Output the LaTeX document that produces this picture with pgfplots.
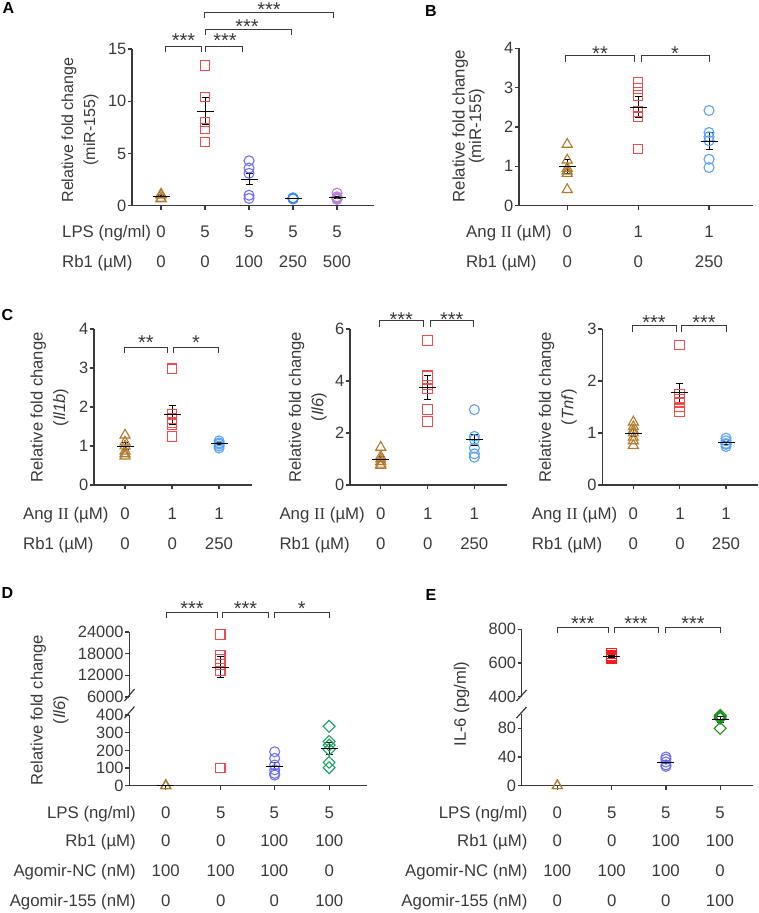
\documentclass[border=0pt]{standalone}
\usepackage{fontspec}
\setmainfont{Liberation Sans}
\newfontfamily\romfont{Liberation Serif}
\usepackage{pgfplots}
\pgfplotsset{compat=1.18}

\definecolor{axc}{HTML}{3A3A3A}
\definecolor{triC}{HTML}{B07A2A}
\definecolor{sqC}{HTML}{F24A4A}
\definecolor{cirA}{HTML}{6E6EF8}
\definecolor{cirA2}{HTML}{3C8CE6}
\definecolor{purA}{HTML}{B482D4}
\definecolor{cirB}{HTML}{5AA2F2}
\definecolor{cirD}{HTML}{7070F5}
\definecolor{diaD}{HTML}{1FA066}
\definecolor{diaE}{HTML}{189018}
\definecolor{sqE}{HTML}{FF1A1A}

\newcommand{\fs}{\fontsize{16.8}{19}\selectfont}
\newcommand{\ft}{\fontsize{16.4}{19}\selectfont}
\newcommand{\AngII}{Ang {\romfont II} (µM)}

\pgfplotsset{
  panel/.style={
    scale only axis, anchor=south west, clip=false,
    axis x line*=bottom, axis y line*=left,
    axis line style={axc, line width=1.2pt, -},
    tick style={axc, line width=1.2pt},
    major tick length=4pt, tick align=outside,
    xticklabels={},
    scaled y ticks=false,
    yticklabel style={font=\ft, text=axc, inner sep=1.5pt},
    /pgf/number format/assume math mode=true,
    /pgf/number format/1000 sep={},
  },
  pts/.style={only marks, mark size=5pt, line width=1.1pt, mark options={solid}},
  tri/.style={pts, mark=triangle, color=triC, mark size=5.8pt},
  sqr/.style={pts, mark=square, color=#1, mark size=4.8pt},
  cir/.style={pts, mark=o, color=#1},
  dia/.style={pts, mark=square, color=#1, mark options={rotate=45}, mark size=4.2pt},
  msem/.style={only marks, black, mark=-, mark size=#1, line width=1pt,
    error bars/.cd, y dir=both, y explicit,
    error bar style={line width=1pt, black},
    error mark options={rotate=90, mark size=3.5pt, line width=1pt, black}},
  msem/.default=8.5pt,
}

\tikzset{
  lab/.style={font=\fs, text=axc, inner sep=0pt, text height=11.8pt, text depth=3.5pt},
  ylab/.style={rotate=90, align=center, text=axc, inner sep=0pt},
  letter/.style={font=\fontsize{16}{16}\selectfont\bfseries, inner sep=0pt},
}
\newcommand{\brk}[4]{\draw[axc, line width=1pt] (#1,#3+#4) -- (#1,#3) -- (#2,#3) -- (#2,#3+#4);}
\newcommand{\sig}[3]{\node[anchor=base, inner sep=0pt, font=\fontsize{20}{20}\selectfont, text=axc] at (#1,#2+11.5) {#3};}

\begin{document}
\begin{tikzpicture}
\useasboundingbox (0pt,0pt) rectangle (759pt,-913pt);

% ---------- A
\begin{axis}[panel, at={(132pt,-205.7pt)}, width=242pt, height=156.7pt,
  xmin=0.34, xmax=5.84, ymin=0, ymax=15, xtick={1,...,5}, ytick={0,5,10,15}]
\addplot[tri] coordinates {(1,1.1)(1,1.05)(1,1.0)(1,0.7)(1,0.65)};
\addplot[sqr=sqC] coordinates {(2,13.4)(2,10.4)(2,8.0)(2,7.4)(2,6.1)};
\addplot[cir=cirA] coordinates {(3,4.3)(3,3.6)(3,3.1)(3,1.0)(3,0.7)};
\addplot[cir=cirA2] coordinates {(4,0.75)(4,0.72)(4,0.7)(4,0.68)(4,0.65)};
\addplot[cir=purA] coordinates {(5,1.2)(5,0.85)(5,0.75)(5,0.7)(5,0.6)};
\addplot[msem] coordinates {(1,0.9) +- (0,0.1) (2,9.06) +- (0,1.3) (3,2.54) +- (0,0.5) (4,0.7) +- (0,0.02) (5,0.78) +- (0,0.1)};
\end{axis}

% ---------- B
\begin{axis}[panel, at={(519pt,-205.7pt)}, width=234pt, height=157.4pt,
  xmin=0.32, xmax=3.62, ymin=0, ymax=4, xtick={1,2,3}, ytick={0,...,4}]
\addplot[tri] coordinates {(1,1.56)(1,1.16)(1,0.95)(1,0.88)(1,0.82)(1,0.41)};
\addplot[sqr=sqC] coordinates {(2,3.13)(2,2.98)(2,2.8)(2,2.4)(2,2.26)(2,1.44)};
\addplot[cir=cirB] coordinates {(3,2.42)(3,1.86)(3,1.75)(3,1.65)(3,1.18)(3,0.97)};
\addplot[msem] coordinates {(1,1.0) +- (0,0.17) (2,2.5) +- (0,0.27) (3,1.64) +- (0,0.21)};
\end{axis}

% ---------- C1
\begin{axis}[panel, at={(94pt,-485pt)}, width=158pt, height=156pt,
  xmin=0.34, xmax=3.70, ymin=0, ymax=4, xtick={1,2,3}, ytick={0,...,4}]
\addplot[tri] coordinates {(1,1.28)(1,1.1)(1,1.0)(1,0.87)(1,0.8)(1,0.74)};
\addplot[sqr=sqC] coordinates {(2,2.98)(2,1.82)(2,1.7)(2,1.6)(2,1.55)(2,1.25)};
\addplot[cir=cirB] coordinates {(3,1.13)(3,1.08)(3,1.05)(3,1.0)(3,0.95)};
\addplot[msem] coordinates {(1,1.0) +- (0,0.08) (2,1.8) +- (0,0.24) (3,1.06) +- (0,0.03)};
\end{axis}

% ---------- C2
\begin{axis}[panel, at={(350pt,-485pt)}, width=156.7pt, height=156pt,
  xmin=0.344, xmax=3.69, ymin=0, ymax=6, xtick={1,2,3}, ytick={0,2,4,6}]
\addplot[tri] coordinates {(1,1.45)(1,1.1)(1,1.0)(1,0.9)(1,0.8)(1,0.75)};
\addplot[sqr=sqC] coordinates {(2,5.55)(2,4.2)(2,3.85)(2,3.7)(2,2.9)(2,2.45)};
\addplot[cir=cirB] coordinates {(3,2.9)(3,1.87)(3,1.75)(3,1.42)(3,1.2)(3,1.07)};
\addplot[msem] coordinates {(1,1.0) +- (0,0.1) (2,3.75) +- (0,0.45) (3,1.74) +- (0,0.22)};
\end{axis}

% ---------- C3
\begin{axis}[panel, at={(602.3pt,-485pt)}, width=155.7pt, height=156pt,
  xmin=0.33, xmax=3.69, ymin=0, ymax=3, xtick={1,2,3}, ytick={0,...,3}]
\addplot[tri] coordinates {(1,1.21)(1,1.12)(1,1.05)(1,1.0)(1,0.92)(1,0.85)(1,0.76)};
\addplot[sqr=sqC] coordinates {(2,2.69)(2,1.75)(2,1.65)(2,1.58)(2,1.5)(2,1.41)};
\addplot[cir=cirB] coordinates {(3,0.9)(3,0.85)(3,0.8)(3,0.78)(3,0.74)};
\addplot[msem] coordinates {(1,1.0) +- (0,0.06) (2,1.77) +- (0,0.19) (3,0.81) +- (0,0.03)};
\end{axis}

% ---------- D lower
\begin{axis}[panel, at={(129.3pt,-785.7pt)}, width=237.4pt, height=70.7pt,
  xmin=0.33, xmax=4.69, ymin=0, ymax=400, xtick={1,...,4}, ytick={0,100,...,400}]
\addplot[tri] coordinates {(1,0)(1,0)(1,0)};
\addplot[sqr=sqC] coordinates {(2,100)};
\addplot[cir=cirD] coordinates {(3,192)(3,155)(3,117)(3,90)(3,70)(3,60)};
\addplot[dia=diaD] coordinates {(4,336)(4,250)(4,230)(4,205)(4,132)(4,102)};
\addplot[msem] coordinates {(1,1) +- (0,0.5) (3,111) +- (0,20) (4,211) +- (0,33)};
\end{axis}
% ---------- D upper
\begin{axis}[panel, at={(129.3pt,-697pt)}, width=237.4pt, height=65pt,
  axis x line=none, xmin=0.33, xmax=4.69, ymin=6000, ymax=24000,
  ytick={6000,12000,18000,24000}]
\addplot[sqr=sqC] coordinates {(2,23300)(2,17600)(2,16500)(2,15000)(2,13200)};
\addplot[msem] coordinates {(2,14300) +- (0,2900)};
\end{axis}

% ---------- E lower
\begin{axis}[panel, at={(521.7pt,-785.7pt)}, width=231.6pt, height=71.75pt,
  xmin=0.343, xmax=4.61, ymin=0, ymax=100, xtick={1,...,4}, ytick={0,40,80}]
\addplot[tri] coordinates {(1,0)(1,0)};
\addplot[cir=cirD] coordinates {(3,40)(3,37)(3,33)(3,29)(3,27)};
\addplot[dia=diaE] coordinates {(4,98)(4,96)(4,94)(4,80)};
\addplot[msem] coordinates {(3,33) +- (0,2.4) (4,92) +- (0,4)};
\end{axis}
% ---------- E upper
\begin{axis}[panel, at={(521.7pt,-696.7pt)}, width=231.6pt, height=67.4pt,
  axis x line=none, xmin=0.343, xmax=4.61, ymin=400, ymax=800,
  ytick={400,600,800}]
\addplot[sqr=sqE] coordinates {(2,655)(2,645)(2,640)(2,632)(2,625)};
\addplot[msem] coordinates {(2,640) +- (0,5)};
\end{axis}

\begin{scope}[x=1pt, y=-1pt]
% panel letters
\node[letter] at (8.5,8) {A};
\node[letter] at (431,10.5) {B};
\node[letter] at (7.5,315.3) {C};
\node[letter] at (7.5,593) {D};
\node[letter] at (431,594.7) {E};

% y labels
\node[ylab, font=\fontsize{16}{22}\selectfont] at (80,130) {Relative fold change\\(miR-155)};
\node[ylab, font=\fontsize{16.8}{15.5}\selectfont] at (468.5,126.3) {Relative fold change\\(miR-155)};
\node[ylab, font=\fontsize{16.6}{22.5}\selectfont] at (49.7,407.5) {Relative fold change\\(\textit{Il1b})};
\node[ylab, font=\fontsize{16.6}{22.5}\selectfont] at (307.8,407) {Relative fold change\\(\textit{Il6})};
\node[ylab, font=\fontsize{16.6}{22.5}\selectfont] at (557.8,407) {Relative fold change\\(\textit{Tnf})};
\node[ylab, font=\fontsize{16.6}{22.5}\selectfont] at (49.7,710) {Relative fold change\\(\textit{Il6})};
\node[ylab, font=\fontsize{16.6}{22.5}\selectfont] at (461.7,704) {IL-6 (pg/ml)};

% row labels A
\node[lab, anchor=west] at (62,233.3) {LPS (ng/ml)};
\node[lab, anchor=west] at (62,263.3) {Rb1 (µM)};
\foreach \x/\a/\b in {161/0/0, 205/5/0, 249/5/100, 293/5/250, 337/5/500} {
  \node[lab] at (\x,233.3) {\a};
  \node[lab] at (\x,263.3) {\b};
}
% row labels B
\node[lab, anchor=west] at (466,233.3) {\AngII};
\node[lab, anchor=west] at (466,263.3) {Rb1 (µM)};
\foreach \x/\a/\b in {567.3/0/0, 638.3/1/0, 709/1/250} {
  \node[lab] at (\x,233.3) {\a};
  \node[lab] at (\x,263.3) {\b};
}
% row labels C
\foreach \l/\p/\q/\r in {23/125/172.3/219, 279.3/380.7/427.7/474.3, 531.7/633.3/680/726} {
  \node[lab, anchor=west] at (\l,515) {\AngII};
  \node[lab, anchor=west] at (\l,545) {Rb1 (µM)};
  \node[lab] at (\p,515) {0}; \node[lab] at (\q,515) {1}; \node[lab] at (\r,515) {1};
  \node[lab] at (\p,545) {0}; \node[lab] at (\q,545) {0}; \node[lab] at (\r,545) {250};
}
% row labels D and E
\foreach \e/\xa/\xb/\xc/\xd in {136/165.7/220.7/274.3/329.3, 527.7/557.3/611.7/665.7/720} {
  \node[lab, anchor=east] at (\e,814) {LPS (ng/ml)};
  \node[lab, anchor=east] at (\e,842.5) {Rb1 (µM)};
  \node[lab, anchor=east] at (\e,872.5) {Agomir-NC (nM)};
  \node[lab, anchor=east] at (\e,902.5) {Agomir-155 (nM)};
  \node[lab] at (\xa,814) {0};   \node[lab] at (\xb,814) {5};   \node[lab] at (\xc,814) {5};   \node[lab] at (\xd,814) {5};
  \node[lab] at (\xa,842.5) {0}; \node[lab] at (\xb,842.5) {0}; \node[lab] at (\xc,842.5) {100}; \node[lab] at (\xd,842.5) {100};
  \node[lab] at (\xa,872.5) {100}; \node[lab] at (\xb,872.5) {100}; \node[lab] at (\xc,872.5) {100}; \node[lab] at (\xd,872.5) {0};
  \node[lab] at (\xa,902.5) {0}; \node[lab] at (\xb,902.5) {0}; \node[lab] at (\xc,902.5) {0}; \node[lab] at (\xd,902.5) {100};
}

% axis breaks
\draw[axc, line width=1.2pt] (124.5,701) -- (134.5,689);
\draw[axc, line width=1.2pt] (124.5,718) -- (134.5,706.5);
\draw[axc, line width=1.2pt] (516.5,701) -- (526.5,690);
\draw[axc, line width=1.2pt] (516.5,718) -- (526.5,707);

% significance brackets
\brk{165}{201.7}{46.7}{5.6} \sig{183.5}{35.8}{***}
\brk{205.7}{242.3}{46.7}{5.6} \sig{225}{35.8}{***}
\brk{205.7}{291}{29}{6} \sig{247}{22.2}{***}
\brk{204}{333.3}{12.3}{6} \sig{269}{5}{***}

\brk{565.7}{634.3}{55.7}{6.3} \sig{600}{48.8}{**}
\brk{641}{709}{55.7}{6.3} \sig{675}{48.8}{*}

\brk{124}{167.7}{347.3}{5.4} \sig{146}{338.3}{**}
\brk{173.3}{218.3}{347.3}{5.4} \sig{196}{338.3}{*}
\brk{379.3}{423.3}{320.7}{6} \sig{401.3}{315}{***}
\brk{430}{473.3}{320.7}{6} \sig{451.7}{315}{***}
\brk{632.3}{676}{325}{6.7} \sig{654}{318}{***}
\brk{681.7}{726}{325}{6.7} \sig{704}{318}{***}

\brk{166.7}{217.3}{612.3}{6} \sig{192}{603.5}{***}
\brk{222.7}{268.3}{612.3}{6} \sig{245.5}{603.5}{***}
\brk{274}{329.3}{612.3}{6} \sig{301.7}{603.5}{*}

\brk{557.3}{608.3}{627.7}{5.6} \sig{582.8}{619}{***}
\brk{614}{658.3}{627.7}{5.6} \sig{636}{619}{***}
\brk{665.7}{720}{627.7}{5.6} \sig{693}{619}{***}
\end{scope}
\end{tikzpicture}
\end{document}
